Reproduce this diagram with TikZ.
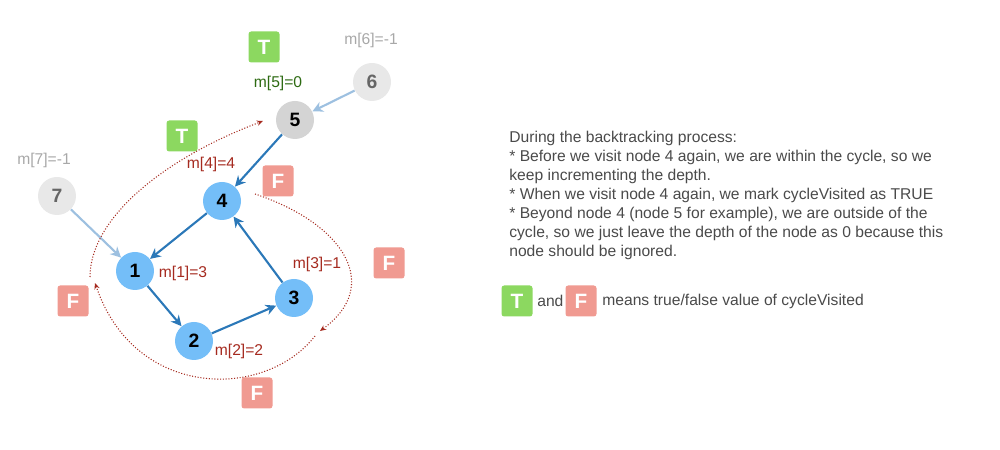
\documentclass[tikz,border=0pt]{standalone}
\usepackage{fontspec}
\setmainfont{Liberation Sans}
\usetikzlibrary{positioning}
\usetikzlibrary{arrows.meta}

\definecolor{cyclefill}{HTML}{74BEF8}
\definecolor{edgeblue}{HTML}{2B78B8}
\definecolor{lightedge}{HTML}{9DC0E0}
\definecolor{outfill}{HTML}{D4D4D4}
\definecolor{farfill}{HTML}{E8E8E8}
\definecolor{fartext}{HTML}{666666}
\definecolor{truefill}{HTML}{8CD860}
\definecolor{falsefill}{HTML}{F09A91}
\definecolor{depthred}{HTML}{A52A1F}
\definecolor{depthgreen}{HTML}{2D6A12}
\definecolor{depthgray}{HTML}{A8A8A8}
\definecolor{notetext}{HTML}{4A4A4A}

\begin{document}
\begin{tikzpicture}[x=0.2mm,y=-0.2mm,
		vertex/.style={circle,minimum size=7.6mm,inner sep=0pt,fill=cyclefill,
			font=\fontsize{11}{12}\selectfont\bfseries},
		flag/.style={rounded corners=1.5pt,minimum size=6.2mm,inner sep=0pt,text=white,
			font=\fontsize{11.8}{13}\selectfont\bfseries},
		depth/.style={inner sep=0pt,font=\fontsize{8.9}{10.8}\selectfont},
		edge/.style={draw=edgeblue,line width=1.2pt,-{Stealth[length=6pt,width=6pt]}},
		faded/.style={draw=lightedge,line width=1.2pt,-{Stealth[length=6pt,width=6pt]}},
		trace/.style={draw=depthred,line width=0.6pt,densely dotted,-{Stealth[length=3.5pt,width=3pt]}}]
		\useasboundingbox (0,0) rectangle (1000,450);

		% Define the nodes of the graph
		\node[vertex] (n1) at (135,271) {1};
		\node[vertex] (n2) at (194,341) {2};
		\node[vertex] (n3) at (294,298) {3};
		\node[vertex] (n4) at (222,201) {4};
		\node[vertex,fill=outfill] (n5) at (295,120) {5};
		\node[vertex,fill=farfill,text=fartext] (n6) at (372,82) {6};
		\node[vertex,fill=farfill,text=fartext] (n7) at (57,196) {7};

		% Draw the edges
		\foreach \from/\to in {n5/n4, n4/n1, n1/n2, n2/n3, n3/n4}
			\draw[edge] (\from) -- (\to);
		\draw[faded] (n7) -- (n1);
		\draw[faded] (n6) -- (n5);

		% Depth labels
		\node[depth,text=depthred] (d1) at (183,273) {m[1]=3};
		\node[depth,text=depthred] (d2) at (239,351) {m[2]=2};
		\node[depth,text=depthred] (d3) at (317,264) {m[3]=1};
		\node[depth,text=depthred] (d4) at (211,164) {m[4]=4};
		\node[depth,text=depthgreen] (d5) at (278,83) {m[5]=0};
		\node[depth,text=depthgray] (d6) at (371,40) {m[6]=-1};
		\node[depth,text=depthgray] (d7) at (44,160) {m[7]=-1};

		% Flags
		\foreach \name/\x/\y in {t1/264/47, t2/182/136}
			\node[flag,fill=truefill] (\name) at (\x,\y) {T};
		\foreach \name/\x/\y in {f1/278/181, f2/389/263, f3/73/301, f4/257/393}
			\node[flag,fill=falsefill] (\name) at (\x,\y) {F};

		% Backtracking path
		\coordinate (a0) at (255,194);
		\coordinate (a1) at (320,331);
		\coordinate (b0) at (315,336);
		\coordinate (b1) at (95,283);
		\coordinate (c0) at (90,277);
		\coordinate (c1) at (263,121);
		\draw[trace] (a0) .. controls (345,224) and (382,286) .. (a1);
		\draw[trace] (b0) .. controls (265,400) and (135,400) .. (b1);
		\draw[trace] (c0) .. controls (90,220) and (160,160) .. (c1);

		% Notes
		\node[anchor=north west,inner sep=0pt,align=left,text=notetext,
			font=\fontsize{8.9}{10.8}\selectfont] (note) at (509,131)
			{During the backtracking process:\\
			* Before we visit node 4 again, we are within the cycle, so we\\
			keep incrementing the depth.\\
			* When we visit node 4 again, we mark cycleVisited as TRUE\\
			* Beyond node 4 (node 5 for example), we are outside of the\\
			cycle, so we just leave the depth of the node as 0 because this\\
			node should be ignored.};
		\node[flag,fill=truefill] (lt) at (517,301) {T};
		\node[depth,text=notetext,anchor=west] (land) at (537,301) {and};
		\node[flag,fill=falsefill] (lf) at (581,301) {F};
		\node[depth,text=notetext,anchor=west] (lmean) at (602,301) {means true/false value of cycleVisited};
	\end{tikzpicture}
\end{document}
